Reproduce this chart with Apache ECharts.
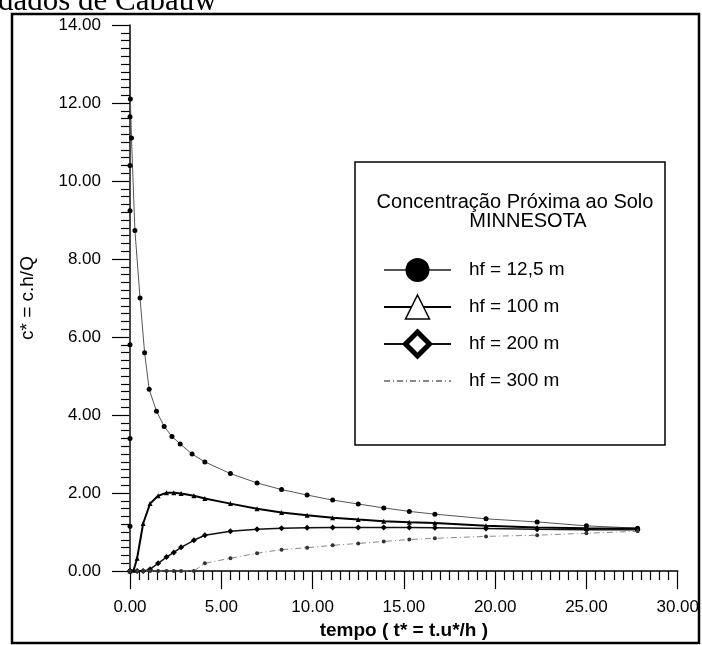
<!DOCTYPE html>
<html><head><meta charset="utf-8">
<script src="https://cdn.jsdelivr.net/npm/echarts@6/dist/echarts.min.js"></script>
<style>html,body{margin:0;padding:0;background:#fff}#c{width:702px;height:645px}</style>
</head><body><div id="c"></div>
<script>
// ---- data (t* values and c* values per release height) ----
const seriesNames = ['hf = 12,5 m', 'hf = 100 m', 'hf = 200 m', 'hf = 300 m'];

const t125 = [0, 0, 0, 0, 0, 0, 0, 0.02, 0.08, 0.27, 0.55, 0.8, 1.05, 1.45, 1.87, 2.3, 2.75, 3.4, 4.1, 5.5, 6.96, 8.3, 9.7, 11.1, 12.5, 13.9, 15.3, 16.7, 19.5, 22.3, 25.0, 27.8];
const c125 = [0, 1.15, 3.4, 5.8, 9.24, 10.4, 11.65, 12.1, 11.1, 8.73, 7.0, 5.6, 4.66, 4.1, 3.71, 3.45, 3.26, 3.0, 2.8, 2.5, 2.26, 2.09, 1.95, 1.82, 1.72, 1.62, 1.53, 1.46, 1.34, 1.26, 1.16, 1.1];

const t100 = [0, 0.2, 0.39, 0.72, 1.1, 1.54, 2.0, 2.4, 2.8, 3.5, 4.1, 5.5, 6.96, 8.3, 9.7, 11.1, 12.5, 13.9, 15.3, 16.7, 19.5, 22.3, 25.0, 27.8];
const c100 = [0, 0.02, 0.33, 1.22, 1.73, 1.93, 2.01, 2.01, 1.99, 1.93, 1.86, 1.73, 1.6, 1.5, 1.43, 1.37, 1.32, 1.28, 1.25, 1.23, 1.16, 1.12, 1.1, 1.09];

const t200 = [0, 0.39, 0.72, 1.1, 1.54, 2.0, 2.4, 2.8, 3.5, 4.1, 5.5, 6.96, 8.3, 9.7, 11.1, 12.5, 13.9, 15.3, 16.7, 19.5, 22.3, 25.0, 27.8];
const c200 = [0, 0, 0, 0.05, 0.2, 0.36, 0.48, 0.61, 0.79, 0.92, 1.02, 1.07, 1.1, 1.11, 1.12, 1.12, 1.12, 1.12, 1.11, 1.09, 1.07, 1.06, 1.06];

const t300 = [0, 0.39, 0.72, 1.1, 1.54, 2.0, 2.4, 2.8, 3.5, 4.1, 5.5, 6.96, 8.3, 9.7, 11.1, 12.5, 13.9, 15.3, 16.7, 19.5, 22.3, 25.0, 27.8];
const c300 = [0, 0, 0, 0, 0, 0, 0, 0, 0, 0.2, 0.33, 0.46, 0.55, 0.6, 0.66, 0.71, 0.76, 0.81, 0.84, 0.89, 0.92, 0.97, 1.02];

const xAxisName = 'tempo ( t* = t.u*/h )';
const yAxisName = 'c* = c.h/Q';
const legendTitle1 = 'Concentração Próxima ao Solo';
const legendTitle2 = 'MINNESOTA';
const topText = 'dados de Cabauw';

const zip = (t, c) => t.map((v, i) => [v, c[i]]);
const FONT = '"Liberation Sans", Arial, sans-serif';

const chart = echarts.init(document.getElementById('c'), null, {renderer: 'canvas'});
chart.setOption({
  animation: false,
  backgroundColor: '#fff',
  grid: {left: 130, right: 20, top: 25, bottom: 70, containLabel: false},
  xAxis: {
    type: 'value', min: 0, max: 30, interval: 5,
    name: xAxisName, nameLocation: 'middle', nameGap: 46,
    nameTextStyle: {fontFamily: FONT, fontSize: 19, fontWeight: 'bold', color: '#000'},
    axisLine: {lineStyle: {color: '#000', width: 1.5}},
    axisTick: {show: true, length: 18, lineStyle: {color: '#000', width: 1.2}},
    minorTick: {show: true, splitNumber: 10, length: 9, lineStyle: {color: '#000', width: 1.2}},
    splitLine: {show: false},
    axisLabel: {margin: 28, fontFamily: FONT, fontSize: 17, color: '#000', formatter: v => v.toFixed(2)}
  },
  yAxis: {
    type: 'value', min: 0, max: 14, interval: 2,
    name: yAxisName, nameLocation: 'middle', nameGap: 93,
    nameTextStyle: {fontFamily: FONT, fontSize: 19, color: '#000'},
    axisLine: {lineStyle: {color: '#000', width: 1.5}},
    axisTick: {show: true, length: 18, lineStyle: {color: '#000', width: 1.2}},
    minorTick: {show: true, splitNumber: 10, length: 9, lineStyle: {color: '#000', width: 1.2}},
    splitLine: {show: false},
    axisLabel: {margin: 29, fontFamily: FONT, fontSize: 17, color: '#000', formatter: v => v.toFixed(2)}
  },
  legend: {
    orient: 'vertical', left: 378, top: 250, itemWidth: 67, itemHeight: 30, itemGap: 7,
    textStyle: {fontFamily: FONT, fontSize: 19, color: '#000', padding: [0, 0, 0, 13], lineHeight: 30},
    data: [
      {name: seriesNames[0], itemStyle: {color: '#000', borderWidth: 0}},
      {name: seriesNames[1], itemStyle: {color: '#fff', borderColor: '#000', borderWidth: 1.5}},
      {name: seriesNames[2], itemStyle: {color: '#fff', borderColor: '#000', borderWidth: 5}},
      {name: seriesNames[3], itemStyle: {color: 'rgba(0,0,0,0)', borderWidth: 0}}
    ]
  },
  graphic: [
    {type: 'rect', z: -10, shape: {x: 12, y: 14, width: 687, height: 629}, style: {fill: 'none', stroke: '#000', lineWidth: 2.5}},
    {type: 'rect', z: 0, shape: {x: 355, y: 162, width: 310, height: 283}, style: {fill: '#fff', stroke: '#000', lineWidth: 1.5}},
    {type: 'text', z: 1, style: {text: legendTitle1, x: 515, y: 202, font: '20px ' + FONT, fill: '#000', textAlign: 'center', textVerticalAlign: 'middle'}},
    {type: 'text', z: 1, style: {text: legendTitle2, x: 528, y: 221, font: '20px ' + FONT, fill: '#000', textAlign: 'center', textVerticalAlign: 'middle'}},
    {type: 'text', z: 1, style: {text: topText, x: -2, y: 2, font: '31px "Liberation Serif", "Times New Roman", serif', fill: '#000', textAlign: 'left', textVerticalAlign: 'middle'}}
  ],
  series: [
    {name: seriesNames[0], type: 'line', z: 5, data: zip(t125, c125), symbol: 'circle', symbolSize: 5,
     itemStyle: {color: '#000'}, lineStyle: {color: '#555', width: 1}},
    {name: seriesNames[1], type: 'line', z: 5, data: zip(t100, c100), symbol: 'triangle', symbolSize: 5,
     itemStyle: {color: '#000'}, lineStyle: {color: '#000', width: 2}},
    {name: seriesNames[2], type: 'line', z: 5, data: zip(t200, c200), symbol: 'diamond', symbolSize: 6,
     itemStyle: {color: '#000'}, lineStyle: {color: '#111', width: 1.5}},
    {name: seriesNames[3], type: 'line', z: 5, data: zip(t300, c300), symbol: 'circle', symbolSize: 4,
     itemStyle: {color: '#333'}, lineStyle: {color: '#888', width: 1, type: [6, 3, 1, 3]}}
  ]
});
</script>
</body></html>
